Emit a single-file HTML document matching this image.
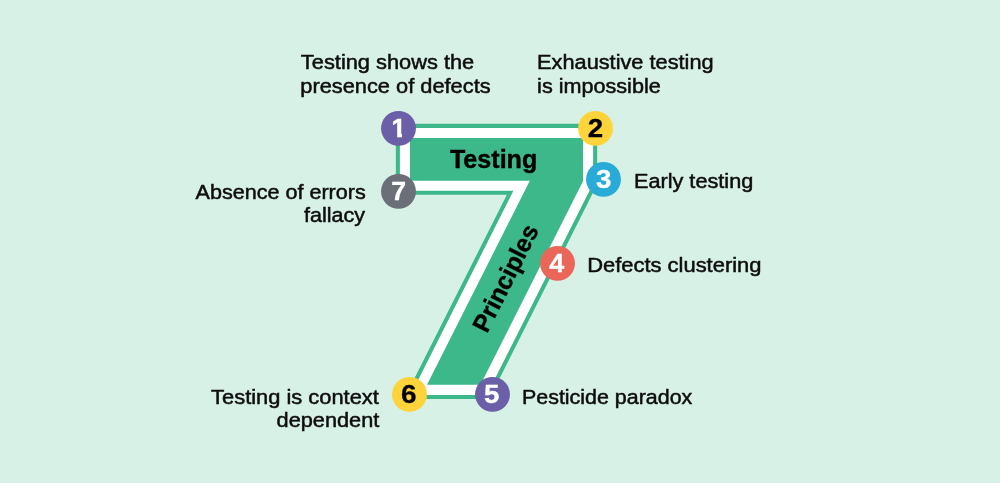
<!DOCTYPE html>
<html lang="en">
<head>
<meta charset="utf-8">
<title>7 Testing Principles</title>
<style>
html,body{margin:0;padding:0;background:#d8f1e7;}
body{width:1000px;height:483px;overflow:hidden;}
svg{display:block;will-change:transform;}
text{font-family:"Liberation Sans",Arial,sans-serif;}
.lbl{font-size:20.5px;fill:#0d0d0d;stroke:#0d0d0d;stroke-width:0.5px;}
.num{font-size:24.9px;font-weight:bold;text-anchor:middle;stroke-width:0.3px;}
.ttl{font-size:25px;font-weight:bold;fill:#000;stroke:#000;stroke-width:0.4px;}
</style>
</head>
<body>
<svg width="1000" height="483" viewBox="0 0 1000 483">
<rect width="1000" height="483" fill="#d8f1e7"/>
<g stroke-linejoin="miter" stroke-miterlimit="10">
<polygon points="410,138 583,138 583,181.2 480.5,384.8 427,384.8 529.8,180.7 410,180.7" fill="#3db88b" stroke="#3db88b" stroke-width="28.3"/>
<polygon points="410,138 583,138 583,181.2 480.5,384.8 427,384.8 529.8,180.7 410,180.7" fill="#3db88b" stroke="#ffffff" stroke-width="20.2"/>
<polygon points="410,138 583,138 583,181.2 480.5,384.8 427,384.8 529.8,180.7 410,180.7" fill="#3db88b"/>
</g>
<text class="ttl" x="449.9" y="167.5" textLength="87.4" lengthAdjust="spacingAndGlyphs">Testing</text>
<text class="ttl" transform="translate(487.1,334) rotate(-63.4)" textLength="116.4" lengthAdjust="spacingAndGlyphs">Principles</text>

<circle cx="398.5" cy="128.35" r="17.45" fill="#6b5fa8"/>
<clipPath id="c1"><path d="M380 108H420V133H402V140H397.2V133H380Z"/></clipPath>
<g clip-path="url(#c1)"><text class="num" textLength="14.20" lengthAdjust="spacingAndGlyphs" x="398.7" y="136.80" fill="#fff" stroke="#fff" style="stroke-width:0.5px">1</text></g>
<circle cx="595.55" cy="128.35" r="17.45" fill="#ffd43b"/>
<text class="num" textLength="15.40" lengthAdjust="spacingAndGlyphs" x="595.55" y="136.80" fill="#000" stroke="#000">2</text>
<circle cx="603.5" cy="179.4" r="17.45" fill="#29abd8"/>
<text class="num" textLength="15.40" lengthAdjust="spacingAndGlyphs" x="603.70" y="187.85" fill="#fff" stroke="#fff">3</text>
<circle cx="557.5" cy="263.4" r="17.45" fill="#ea6658"/>
<text class="num" textLength="15.01" lengthAdjust="spacingAndGlyphs" x="556.70" y="271.85" fill="#fff" stroke="#fff">4</text>
<circle cx="492.5" cy="394.4" r="17.45" fill="#6b5fa8"/>
<text class="num" textLength="15.40" lengthAdjust="spacingAndGlyphs" x="491.70" y="402.85" fill="#fff" stroke="#fff">5</text>
<circle cx="409.5" cy="394.4" r="17.45" fill="#ffd43b"/>
<text class="num" textLength="15.50" lengthAdjust="spacingAndGlyphs" x="408.70" y="402.85" fill="#000" stroke="#000">6</text>
<circle cx="398.5" cy="191.4" r="17.45" fill="#6a6f78"/>
<text class="num" textLength="14.80" lengthAdjust="spacingAndGlyphs" x="398.75" y="199.85" fill="#fff" stroke="#fff">7</text>
<text class="lbl" x="300.88" y="68.75" textLength="173.38" lengthAdjust="spacingAndGlyphs">Testing shows the</text>
<text class="lbl" x="300.29" y="92.75" textLength="190.33" lengthAdjust="spacingAndGlyphs">presence of defects</text>
<text class="lbl" x="537.09" y="68.75" textLength="176.52" lengthAdjust="spacingAndGlyphs">Exhaustive testing</text>
<text class="lbl" x="537.11" y="92.75" textLength="123.61" lengthAdjust="spacingAndGlyphs">is impossible</text>
<text class="lbl" x="633.94" y="187.55" textLength="119.34" lengthAdjust="spacingAndGlyphs">Early testing</text>
<text class="lbl" x="587.20" y="272.45" textLength="174.29" lengthAdjust="spacingAndGlyphs">Defects clustering</text>
<text class="lbl" x="522.01" y="403.75" textLength="170.30" lengthAdjust="spacingAndGlyphs">Pesticide paradox</text>
<text class="lbl" x="211.12" y="403.75" textLength="167.73" lengthAdjust="spacingAndGlyphs">Testing is context</text>
<text class="lbl" x="276.58" y="427.35" textLength="102.75" lengthAdjust="spacingAndGlyphs">dependent</text>
<text class="lbl" x="195.63" y="198.65" textLength="170.04" lengthAdjust="spacingAndGlyphs">Absence of errors</text>
<text class="lbl" x="304.00" y="222.35" textLength="60.97" lengthAdjust="spacingAndGlyphs">fallacy</text>
</svg>
</body>
</html>
